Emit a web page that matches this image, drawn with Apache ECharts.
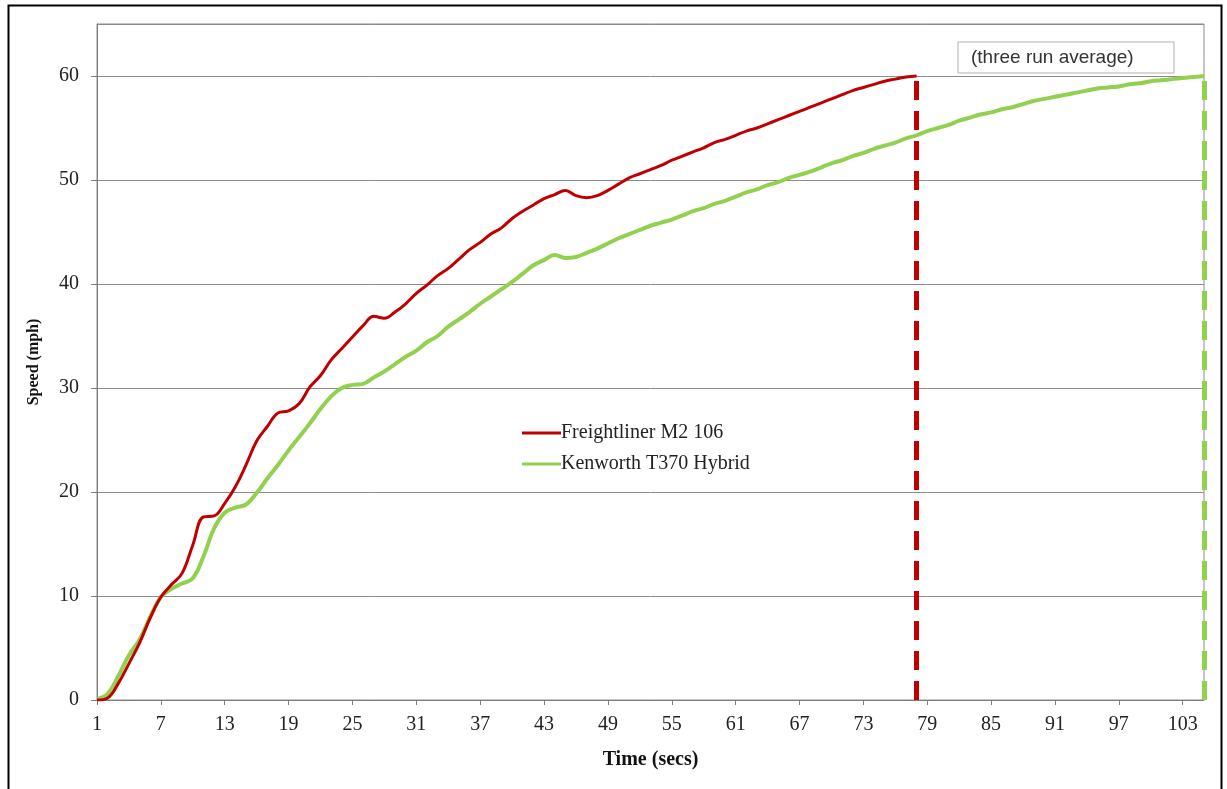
<!DOCTYPE html>
<html>
<head>
<meta charset="utf-8">
<script src="https://cdn.jsdelivr.net/npm/echarts@6/dist/echarts.min.js"></script>
<style>
html,body{margin:0;padding:0;background:#fff;}
#chart{width:1227px;height:789px;}
</style>
</head>
<body>
<div id="chart"></div>
<script>
// Time in seconds (category axis 1..105)
var seconds = [];
for (var s = 1; s <= 105; s++) seconds.push(String(s));

var seriesNames = ['Freightliner M2 106', 'Kenworth T370 Hybrid'];

// Freightliner M2 106 speed (mph), seconds 1..78
var freightliner = [
  0.0, 0.2, 1.6, 3.5, 5.5, 7.9, 9.9, 11.1, 12.2, 14.9,
  17.6, 17.7, 18.9, 20.5, 22.6, 24.9, 26.3, 27.6, 27.8, 28.5,
  30.1, 31.2, 32.7, 33.8, 34.9, 36.0, 36.9, 36.7, 37.3, 38.1,
  39.1, 39.9, 40.8, 41.5, 42.4, 43.3, 44.0, 44.8, 45.4, 46.3,
  47.0, 47.6, 48.2, 48.6, 49.0, 48.5, 48.3, 48.5, 49.0, 49.6,
  50.2, 50.6, 51.0, 51.4, 51.9, 52.3, 52.7, 53.1, 53.6, 53.9,
  54.3, 54.7, 55.0, 55.4, 55.8, 56.2, 56.6, 57.0, 57.4, 57.8,
  58.2, 58.6, 58.9, 59.2, 59.5, 59.7, 59.9, 60.0
];

// Kenworth T370 Hybrid speed (mph), seconds 1..105
var kenworth = [
  0.1, 0.6, 2.3, 4.3, 5.8, 8.0, 9.9, 10.7, 11.2, 11.7,
  13.8, 16.5, 18.0, 18.5, 18.8, 19.9, 21.3, 22.6, 24.0, 25.3,
  26.6, 28.0, 29.2, 30.0, 30.3, 30.4, 31.0, 31.6, 32.3, 33.0,
  33.6, 34.4, 35.0, 35.9, 36.6, 37.3, 38.1, 38.8, 39.5, 40.2,
  41.0, 41.8, 42.3, 42.8, 42.5, 42.6, 43.0, 43.4, 43.9, 44.4,
  44.8, 45.2, 45.6, 45.9, 46.2, 46.6, 47.0, 47.3, 47.7, 48.0,
  48.4, 48.8, 49.1, 49.5, 49.8, 50.2, 50.5, 50.8, 51.2, 51.6,
  51.9, 52.3, 52.6, 53.0, 53.3, 53.6, 54.0, 54.3, 54.7, 55.0,
  55.3, 55.7, 56.0, 56.3, 56.5, 56.8, 57.0, 57.3, 57.6, 57.8,
  58.0, 58.2, 58.4, 58.6, 58.8, 58.9, 59.0, 59.2, 59.3, 59.5,
  59.6, 59.7, 59.8, 59.9, 60.0
];

var finishTimes = ['78', '105'];
var targetSpeed = 60;

var chart = echarts.init(document.getElementById('chart'), null, {renderer: 'canvas'});
var serif = 'Liberation Serif, Times New Roman, serif';
var red = '#C00000', green = '#92D050';

var option = {
  animation: false,
  backgroundColor: '#fff',
  grid: {left: 97, right: 23, top: 24, bottom: 89, show: true, borderColor: '#8c8c8c', borderWidth: 1},
  legend: {
    orient: 'vertical', left: 517, top: 418, itemWidth: 39, itemHeight: 3, itemGap: 11,
    icon: 'rect',
    textStyle: {fontFamily: serif, fontSize: 20, color: '#222', padding: [0, 0, 0, -5]},
    data: seriesNames
  },
  xAxis: {
    type: 'category', data: seconds, boundaryGap: false,
    name: 'Time (secs)', nameLocation: 'middle', nameGap: 50,
    nameTextStyle: {fontFamily: serif, fontSize: 20, fontWeight: 'bold', color: '#111'},
    axisLine: {lineStyle: {color: '#7f7f7f', width: 1}},
    axisTick: {interval: 5, length: 5, lineStyle: {color: '#7f7f7f'}},
    axisLabel: {interval: 5, margin: 15, fontFamily: serif, fontSize: 20, color: '#222'},
    splitLine: {show: false}
  },
  yAxis: {
    type: 'value', min: 0, max: 65, interval: 10,
    name: 'Speed (mph)', nameLocation: 'middle', nameGap: 55,
    nameTextStyle: {fontFamily: serif, fontSize: 16, fontWeight: 'bold', color: '#111'},
    axisLine: {show: true, lineStyle: {color: '#7f7f7f'}},
    axisTick: {show: true, length: 6, lineStyle: {color: '#7f7f7f'}},
    axisLabel: {margin: 18, fontFamily: serif, fontSize: 20, color: '#222', showMaxLabel: false},
    splitLine: {show: true, lineStyle: {color: '#8c8c8c', width: 1}}
  },
  series: [
    {
      name: seriesNames[0], type: 'line', data: freightliner, smooth: 0.4,
      symbol: 'none', lineStyle: {color: red, width: 3}, itemStyle: {color: red}, z: 3,
      markLine: {
        silent: true, symbol: 'none', label: {show: false},
        lineStyle: {color: red, width: 5, type: [19, 11]},
        data: [[{coord: [finishTimes[0], 0]}, {coord: [finishTimes[0], targetSpeed]}]]
      }
    },
    {
      name: seriesNames[1], type: 'line', data: kenworth, smooth: 0.4,
      symbol: 'none', lineStyle: {color: green, width: 4}, itemStyle: {color: green}, z: 2,
      markLine: {
        silent: true, symbol: 'none', label: {show: false},
        lineStyle: {color: green, width: 5, type: [19, 11]},
        data: [[{coord: [finishTimes[1], 0]}, {coord: [finishTimes[1], targetSpeed]}]]
      }
    }
  ],
  graphic: [
    {type: 'polyline', shape: {points: [[8.5, 789], [8.5, 5.5], [1221.5, 5.5], [1221.5, 789]]},
     style: {stroke: '#000', lineWidth: 2, fill: null}, silent: true},
    {type: 'rect', shape: {x: 958, y: 42, width: 216, height: 31},
     style: {fill: '#fff', stroke: '#b0b0b0', lineWidth: 1}, z: 10},
    {type: 'text', x: 971, y: 57.5, z: 11,
     style: {text: '(three run average)', fontFamily: 'Liberation Sans, Arial, sans-serif', fontSize: 19,
             fill: '#333', verticalAlign: 'middle'}}
  ]
};
chart.setOption(option);
</script>
</body>
</html>
